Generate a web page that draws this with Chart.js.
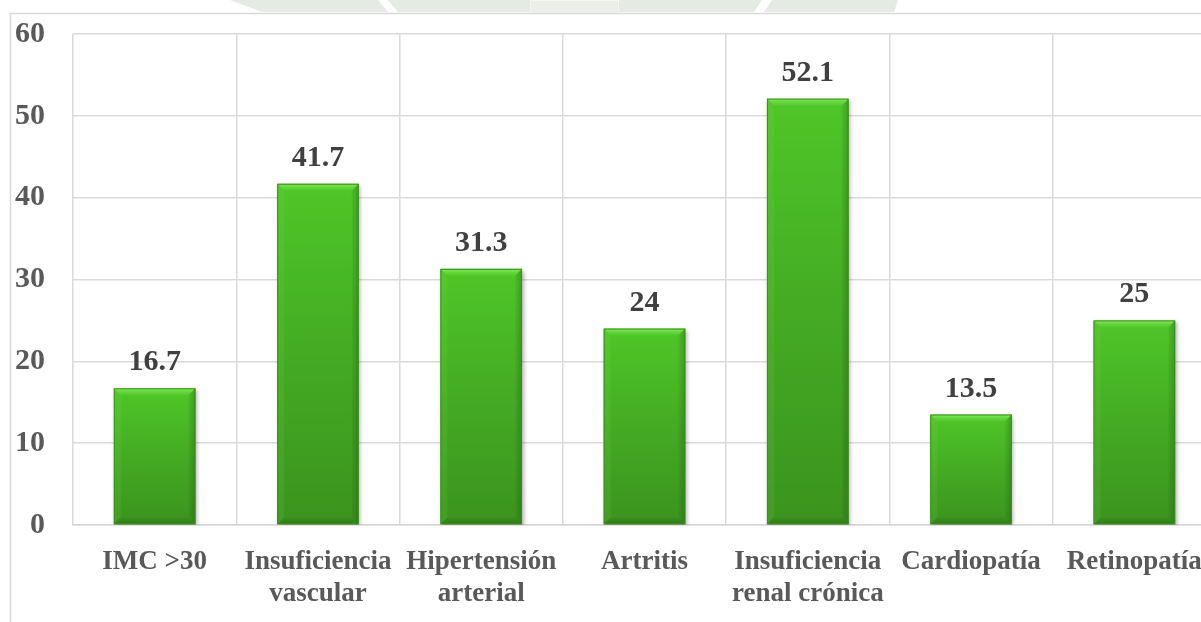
<!DOCTYPE html>
<html>
<head>
<meta charset="utf-8">
<script src="https://cdn.jsdelivr.net/npm/chart.js@4/dist/chart.umd.min.js"></script>
<style>
  html, body { margin: 0; padding: 0; background: #ffffff; }
  #wrap { width: 1201px; height: 622px; overflow: hidden; position: relative; }
  canvas { display: block; }
</style>
</head>
<body>
<div id="wrap"><canvas id="c" width="1218" height="622"></canvas></div>
<script>
// Comorbilidades (%)
const categories = [
  'IMC >30',
  ['Insuficiencia', 'vascular'],
  ['Hipertensión', 'arterial'],
  'Artritis',
  ['Insuficiencia', 'renal crónica'],
  'Cardiopatía',
  'Retinopatía'
];
const percentages = [16.7, 41.7, 31.3, 24, 52.1, 13.5, 25];
const yTicks = [0, 10, 20, 30, 40, 50, 60];

const SERIF = '"Liberation Serif", "Times New Roman", serif';

// Outer frame and faint emblem strip along the top edge
const framePlugin = {
  id: 'frame',
  beforeDraw(chart) {
    const ctx = chart.ctx;
    ctx.save();
    ctx.fillStyle = '#ffffff';
    ctx.fillRect(0, 0, chart.width, chart.height);
    // emblem remnants
    ctx.fillStyle = '#e6eae4';
    ctx.beginPath();
    ctx.moveTo(230, 0); ctx.lineTo(898, 0); ctx.lineTo(894, 12); ctx.lineTo(262, 12); ctx.closePath();
    ctx.fill();
    ctx.fillStyle = '#ffffff';
    ctx.beginPath();
    ctx.moveTo(378, 0); ctx.lineTo(388, 0); ctx.lineTo(398, 12); ctx.lineTo(388, 12); ctx.closePath();
    ctx.fill();
    ctx.beginPath();
    ctx.moveTo(762, 0); ctx.lineTo(772, 0); ctx.lineTo(764, 12); ctx.lineTo(754, 12); ctx.closePath();
    ctx.fill();
    ctx.fillStyle = '#eceee9';
    ctx.fillRect(531, 1, 86, 11);
    ctx.strokeStyle = '#f4f5f3';
    ctx.lineWidth = 1;
    ctx.strokeRect(530.5, 0.5, 88, 12);
    // frame
    ctx.strokeStyle = '#d9d9d9';
    ctx.lineWidth = 1.5;
    ctx.beginPath();
    ctx.moveTo(10.5, chart.height + 5);
    ctx.lineTo(10.5, 13.5);
    ctx.lineTo(chart.width + 5, 13.5);
    ctx.stroke();
    ctx.restore();
  }
};

// Soft shadow under the bars
const shadowPlugin = {
  id: 'barShadow',
  beforeDatasetDraw(chart) {
    const ctx = chart.ctx;
    ctx.save();
    ctx.shadowColor = 'rgba(0,0,0,0.3)';
    ctx.shadowBlur = 4;
    ctx.shadowOffsetX = 1.5;
    ctx.shadowOffsetY = 2;
  },
  afterDatasetDraw(chart) {
    chart.ctx.restore();
  }
};

// Bevel edges and value labels on each bar
const bevelPlugin = {
  id: 'bevel',
  afterDatasetsDraw(chart) {
    const ctx = chart.ctx;
    const meta = chart.getDatasetMeta(0);
    const values = chart.data.datasets[0].data;
    meta.data.forEach((bar, i) => {
      const { x, y, base, width } = bar.getProps(['x', 'y', 'base', 'width'], true);
      const l = x - width / 2, r = x + width / 2, t = y, b = base;
      const s = 7;
      ctx.save();
      // top bevel (highlight)
      let g = ctx.createLinearGradient(0, t, 0, t + s);
      g.addColorStop(0, 'rgba(150,245,110,0.8)');
      g.addColorStop(1, 'rgba(100,220,60,0.2)');
      ctx.fillStyle = g;
      ctx.beginPath();
      ctx.moveTo(l, t); ctx.lineTo(r, t); ctx.lineTo(r - s, t + s); ctx.lineTo(l + s, t + s); ctx.closePath();
      ctx.fill();
      // left bevel
      ctx.fillStyle = 'rgba(120,230,80,0.12)';
      ctx.beginPath();
      ctx.moveTo(l, t); ctx.lineTo(l + s, t + s); ctx.lineTo(l + s, b - s); ctx.lineTo(l, b); ctx.closePath();
      ctx.fill();
      // right bevel (shade)
      g = ctx.createLinearGradient(r - s, 0, r, 0);
      g.addColorStop(0, 'rgba(20,70,10,0.05)');
      g.addColorStop(1, 'rgba(20,70,10,0.3)');
      ctx.fillStyle = g;
      ctx.beginPath();
      ctx.moveTo(r, t); ctx.lineTo(r, b); ctx.lineTo(r - s, b - s); ctx.lineTo(r - s, t + s); ctx.closePath();
      ctx.fill();
      // bottom bevel (shade)
      g = ctx.createLinearGradient(0, b - s, 0, b);
      g.addColorStop(0, 'rgba(20,70,10,0.05)');
      g.addColorStop(1, 'rgba(20,70,10,0.3)');
      ctx.fillStyle = g;
      ctx.beginPath();
      ctx.moveTo(l, b); ctx.lineTo(r, b); ctx.lineTo(r - s, b - s); ctx.lineTo(l + s, b - s); ctx.closePath();
      ctx.fill();
      // outline
      ctx.strokeStyle = '#3c8e1e';
      ctx.lineWidth = 1;
      ctx.strokeRect(l + 0.5, t + 0.5, width - 1, b - t - 1);
      // value label
      ctx.fillStyle = '#404040';
      ctx.font = 'bold 30px ' + SERIF;
      ctx.textAlign = 'center';
      ctx.textBaseline = 'alphabetic';
      ctx.fillText(String(values[i]), x, t - 18);
      ctx.restore();
    });
  }
};

function barGradient(context) {
  const chart = context.chart;
  const ys = chart.scales.y;
  if (!chart.chartArea || !ys || context.raw === undefined) return '#45b022';
  const top = ys.getPixelForValue(context.raw);
  const bottom = ys.getPixelForValue(0);
  const g = chart.ctx.createLinearGradient(0, top, 0, bottom);
  g.addColorStop(0, '#4fc628');
  g.addColorStop(0.5, '#44ab23');
  g.addColorStop(1, '#3b931e');
  return g;
}

new Chart(document.getElementById('c'), {
  type: 'bar',
  data: {
    labels: categories,
    datasets: [{
      data: percentages,
      backgroundColor: barGradient,
      borderWidth: 0,
      barPercentage: 0.5,
      categoryPercentage: 1.0
    }]
  },
  options: {
    responsive: false,
    animation: false,
    events: [],
    layout: { padding: { top: 34, right: 2, bottom: 0, left: 0 } },
    plugins: {
      legend: { display: false },
      tooltip: { enabled: false },
      title: { display: false }
    },
    scales: {
      x: {
        afterFit(scale) {
          scale.height = 97;
          scale.paddingLeft = 0;
          scale.paddingRight = 0;
        },
        grid: { color: '#dadada', lineWidth: 1.5, drawTicks: false, offset: true },
        border: { color: '#d6d6d6', width: 1.5 },
        ticks: {
          color: '#595959',
          font: { family: SERIF, size: 27, weight: 'bold', lineHeight: 1.18 },
          padding: 21,
          maxRotation: 0,
          autoSkip: false
        }
      },
      y: {
        min: 0,
        max: 60,
        afterFit(scale) {
          scale.width = 73;
          scale.paddingTop = 0;
          scale.paddingBottom = 0;
        },
        afterBuildTicks(scale) { scale.ticks = yTicks.map(v => ({ value: v })); },
        grid: { color: '#dadada', lineWidth: 1.5, drawTicks: false },
        border: { display: false },
        ticks: {
          color: '#595959',
          font: { family: SERIF, size: 30, weight: 'bold' },
          padding: 28
        }
      }
    }
  },
  plugins: [framePlugin, shadowPlugin, bevelPlugin]
});
</script>
</body>
</html>
